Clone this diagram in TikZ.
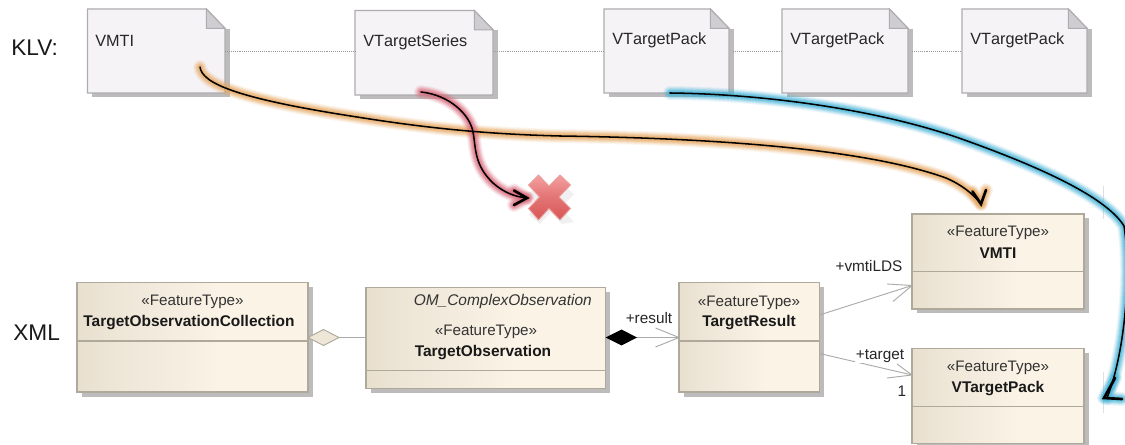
\documentclass[tikz,border=0pt]{standalone}
\usepackage{fontspec}
\setmainfont{Liberation Sans}
\usetikzlibrary{calc}
\definecolor{clsA}{HTML}{E8DFCF}
\definecolor{clsB}{HTML}{EEE6D7}
\definecolor{clsC}{HTML}{FAF3E6}
\definecolor{clsline}{HTML}{AFA99C}
\definecolor{shade1}{HTML}{BDBBBC}
\definecolor{notefill}{HTML}{F6F3F7}
\definecolor{noteline}{HTML}{ADADAF}
\definecolor{foldfill}{HTML}{CFCDD2}
\definecolor{assoc}{HTML}{ABABAB}
\definecolor{glowO}{HTML}{E8A860}
\definecolor{glowR}{HTML}{DC6A7C}
\definecolor{glowB}{HTML}{45B4D8}
\definecolor{crossA}{HTML}{F4A0A0}
\definecolor{crossB}{HTML}{D85555}
\definecolor{crossE}{HTML}{EBA0A0}
\pgfdeclarehorizontalshading{classfill}{100bp}{color(0bp)=(clsA); color(25bp)=(clsA); color(34bp)=(clsB); color(56bp)=(clsC); color(100bp)=(clsC)}
\pgfdeclareverticalshading{crossfill}{100bp}{color(0bp)=(crossB); color(25bp)=(crossB); color(52bp)=(crossB!55!crossA); color(75bp)=(crossA); color(100bp)=(crossA)}
\tikzset{
  classbox/.style={draw=clsline,line width=0.9pt,shading=classfill,shading angle=0,inner sep=0pt,outer sep=0pt},
  notebox/.style={inner sep=0pt,outer sep=0pt},
  divider/.style={draw=clsline,line width=0.8pt},
  sttext/.style={font=\fontsize{11.4pt}{13pt}\selectfont,text=black!80,inner sep=0pt,yshift=-1pt},
  nametext/.style={font=\fontsize{11.6pt}{13pt}\selectfont\bfseries,text=black!90,inner sep=0pt,yshift=-0.8pt},
  notetext/.style={font=\fontsize{12.2pt}{14pt}\selectfont\addfontfeature{Kerning=Off},text=black!85,anchor=west,inner sep=0pt,yshift=-0.8pt},
  rolelabel/.style={font=\fontsize{11.5pt}{13pt}\selectfont,text=black!85,inner sep=0pt},
  sidelabel/.style={font=\fontsize{17pt}{19pt}\selectfont,text=black!90,anchor=west,inner sep=0pt},
  assocline/.style={draw=assoc,line width=0.7pt},
  inkline/.style={draw=black,line width=1.15pt,line cap=round,line join=round},
  inkhead/.style={draw=black,line width=2pt,line cap=round,line join=miter},
  glow/.style={draw=#1,line cap=round,line join=round},
}
\newcommand{\classnode}[5]{%
  \fill[shade1] ({#2+4.5},{#3+4.5}) rectangle ({#4+4.5},{#5+4.5});
  \node[classbox,minimum width={(#4-#2)*0.75pt},minimum height={(#5-#3)*0.75pt}] (#1) at ({(#2+#4)/2},{(#3+#5)/2}) {};
}
\newcommand{\notenode}[5]{%
  \fill[shade1] ({#2+4.5},{#3+20}) rectangle ({#4+4.5},{#5+4.5});
  \node[notebox,minimum width={(#4-#2)*0.75pt},minimum height={(#5-#3)*0.75pt}] (#1) at ({(#2+#4)/2},{(#3+#5)/2}) {};
  \filldraw[fill=notefill,draw=noteline,line width=0.9pt] (#1.north west) -- ([xshift=-14pt]#1.north east) -- ([yshift=-14.5pt]#1.north east) -- (#1.south east) -- (#1.south west) -- cycle;
  \filldraw[fill=foldfill,draw=noteline,line width=0.8pt] ([xshift=-14pt]#1.north east) -- ([yshift=-14.5pt]#1.north east) -- ([xshift=-14pt,yshift=-14.5pt]#1.north east) -- cycle;
}
\newcommand{\glowpath}[2]{%
  \foreach \wd/\op in {10.5/.10,9/.14,7.5/.2,6/.26,4.5/.32,3/.4}{
    \draw[glow=#1,line width=\wd pt,opacity=\op] #2;
  }
}
\begin{document}
\begin{tikzpicture}[x=0.75pt,y=-0.75pt]
\useasboundingbox (0,0) rectangle (1125,445);
\clip (0,0) rectangle (1125,445);
\fill[white] (0,0) rectangle (1125,445);

% side labels
\node[sidelabel] (klv) at (11,48) {KLV:};
\node[sidelabel] (xml) at (13,333) {XML};

% KLV notes
\notenode{n1}{87.5}{9}{225}{93}
\notenode{n2}{355}{10.5}{493}{95}
\notenode{n3}{604}{9}{729}{93}
\notenode{n4}{782}{9}{908}{93}
\notenode{n5}{962}{9}{1087}{93}
\draw[densely dotted,draw=black!40,line width=0.45pt] (225,51) -- (355,51);
\draw[densely dotted,draw=black!40,line width=0.45pt] (493,51) -- (604,51);
\draw[densely dotted,draw=black!40,line width=0.45pt] (733,51) -- (782,51);
\draw[densely dotted,draw=black!40,line width=0.45pt] (912,51) -- (962,51);
\node[notetext] (t1) at (95,39.5) {VMTI};
\node[notetext] (t2) at (363,41.5) {VTargetSeries};
\node[notetext] (t3) at (612,39.5) {VTargetPack};
\node[notetext] (t4) at (790,39.5) {VTargetPack};
\node[notetext] (t5) at (970,39.5) {VTargetPack};

% faint vertical marks
\draw[draw=black!12,line width=0.5pt] (1103,186) -- (1103,219);
\draw[draw=black!12,line width=0.5pt] (1103,372) -- (1103,413);

% classes
\classnode{c1}{77}{282.5}{308}{392}
\classnode{c2}{366}{287.5}{605.5}{388.5}
\classnode{c3}{679}{282.5}{819.5}{392}
\classnode{c4}{912}{214}{1084}{309}
\classnode{c5}{912}{348.5}{1084}{443.5}
\draw[divider] (c1.west |- 0,341) -- (c1.east |- 0,341);
\draw[divider] (c2.west |- 0,370.5) -- (c2.east |- 0,370.5);
\draw[divider] (c3.west |- 0,341) -- (c3.east |- 0,341);
\draw[divider] (c4.west |- 0,271.5) -- (c4.east |- 0,271.5);
\draw[divider] (c5.west |- 0,406.5) -- (c5.east |- 0,406.5);

\node[sttext] (s1) at (192.5,301) {«FeatureType»};
\node[nametext] (b1) at (189,321.5) {TargetObservationCollection};
\node[sttext,font=\fontsize{11.6pt}{13pt}\selectfont\itshape,anchor=east] (om) at (592,300.5) {OM\_ComplexObservation};
\node[sttext] (s2) at (486,331) {«FeatureType»};
\node[nametext] (b2) at (483,351.5) {TargetObservation};
\node[sttext] (s3) at (749,301.5) {«FeatureType»};
\node[nametext] (b3) at (749,321.5) {TargetResult};
\node[sttext] (s4) at (998,232) {«FeatureType»};
\node[nametext] (b4) at (998,252) {VMTI};
\node[sttext] (s5) at (998,366.5) {«FeatureType»};
\node[nametext] (b5) at (998,387.5) {VTargetPack};

% associations
\coordinate (dia1) at (339,337.5);
\draw[assocline] (dia1) -- (dia1 -| c2.west);
\filldraw[fill=clsB,draw=clsline,line width=0.7pt] (c1.east |- dia1) -- (323.5,329.5) -- (dia1) -- (323.5,345.5) -- cycle;
\coordinate (dia2) at (637,337.5);
\coordinate (tip2) at (c3.west |- dia2);
\draw[assocline] (dia2) -- (tip2);
\draw[assocline] (655.5,328) -- (tip2) -- (655.5,347);
\fill[black] (c2.east |- dia2) -- (621.5,329.5) -- (dia2) -- (621.5,345.5) -- cycle;
\coordinate (tip3) at (c4.west |- 0,285.5);
\draw[assocline] (c3.east |- 0,315) -- (tip3);
\draw[assocline] (887,284) -- (tip3) -- (893,301.5);
\coordinate (tip4) at (c5.west |- 0,375);
\draw[assocline] (c3.east |- 0,353.5) -- (tip4);
\draw[assocline] (897,364) -- (tip4) -- (887,378);
\node[rolelabel] (r1) at (649,318) {+result};
\node[rolelabel] (r2) at (869,266.5) {+vmtiLDS};
\node[rolelabel,fill=white,inner xsep=1pt,inner ysep=0.5pt] (r3) at (880,356) {+target};
\node[rolelabel] (r4) at (902,391.5) {1};

% cross
\coordinate (xc) at (549.5,197.5);
\fill[black,opacity=.06] (540,184) -- (551,194) -- (562,184) -- (574,194) -- (561,208) -- (574,222) -- (562,224) -- (551,212) -- (540,224) -- (528,214) -- (540,208) -- (528,194) -- cycle;
\path[shading=crossfill,draw=crossE,line width=0.7pt]
  (538.5,175) -- (549,186) -- (560,175) -- (570.5,185) -- (559,197) -- (570.5,208.5) -- (560,220) -- (549,208.5) -- (538.5,220) -- (528.5,208.5) -- (539.5,197) -- (528.5,185) -- cycle;

% ink strokes
\coordinate (oS) at (200,67);
\coordinate (oE) at (981,204);
\coordinate (rS) at (421,92);
\coordinate (rE) at (527,198);
\coordinate (bS) at (670,93);
\coordinate (bE) at (1107,398);
\def\orangepath{(oS) .. controls (202,84) and (240,99) .. (357,117) .. controls (420,127) and (480,134) .. (560,136) .. controls (700,138) and (860,147) .. (946,178) .. controls (962,185) and (972,193) .. (oE)}
\def\redpath{(rS) .. controls (450,95) and (470,115) .. (473,132) .. controls (476,148) and (474,165) .. (493,183) .. controls (503,192) and (515,197) .. (rE)}
\def\bluepath{(bS) .. controls (760,94) and (870,108) .. (956,137) .. controls (1030,163) and (1105,195) .. (1124,226) .. controls (1131,270) and (1126,350) .. (bE)}
\def\orangehead{(972.5,191.5) -- (oE) -- (986,190)}
\def\redhead{(514,190.5) -- (rE) -- (514,205)}
\def\bluehead{(1115,378) -- (1104,398) -- (1122,399)}
\glowpath{glowO}{\orangepath}
\glowpath{glowO}{\orangehead}
\glowpath{glowR}{\redpath}
\glowpath{glowR}{\redhead}
\glowpath{glowB}{\bluepath}
\glowpath{glowB}{\bluehead}
\draw[inkline] \orangepath;
\draw[inkhead] \orangehead;
\draw[inkline] \redpath;
\draw[inkhead] \redhead;
\draw[inkline] \bluepath;
\draw[inkhead] \bluehead;
\end{tikzpicture}
\end{document}
